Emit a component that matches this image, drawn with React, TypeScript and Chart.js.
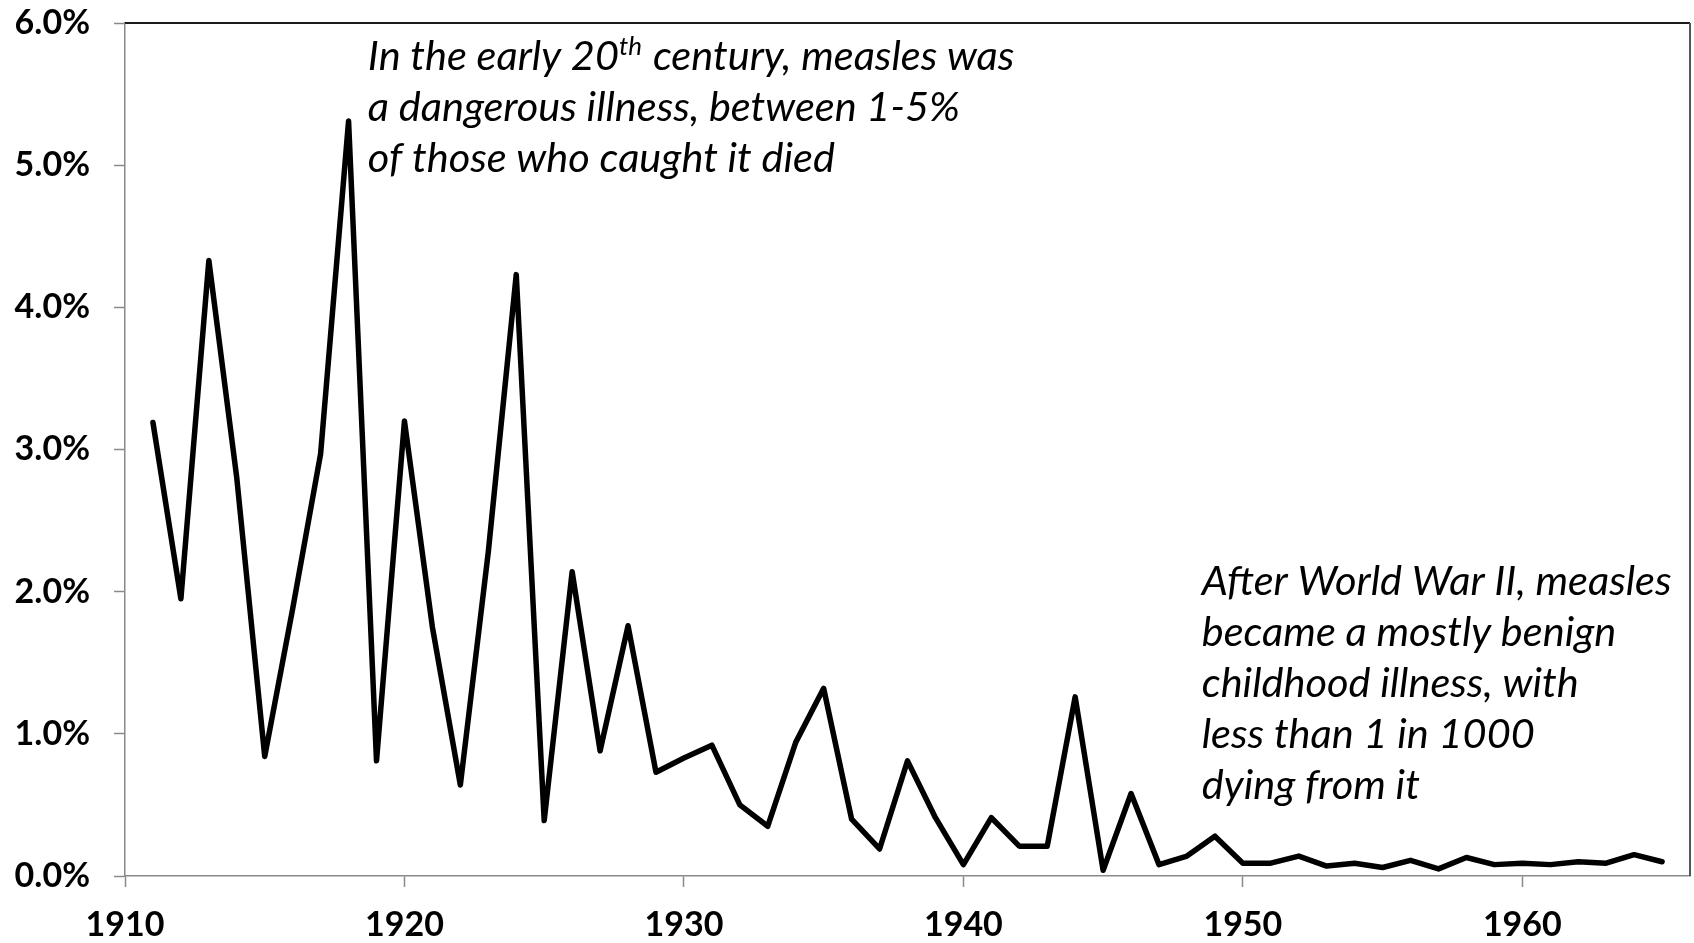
import React, { useEffect, useRef } from 'react';
import { Chart, registerables } from 'chart.js';

Chart.register(...registerables);

// ---- Data (case fatality rate of measles, %) ----
const years: number[] = [
  1911, 1912, 1913, 1914, 1915, 1916, 1917, 1918, 1919, 1920,
  1921, 1922, 1923, 1924, 1925, 1926, 1927, 1928, 1929, 1930,
  1931, 1932, 1933, 1934, 1935, 1936, 1937, 1938, 1939, 1940,
  1941, 1942, 1943, 1944, 1945, 1946, 1947, 1948, 1949, 1950,
  1951, 1952, 1953, 1954, 1955, 1956, 1957, 1958, 1959, 1960,
  1961, 1962, 1963, 1964, 1965,
];

const fatalityPct: number[] = [
  3.19, 1.95, 4.33, 2.80, 0.84, 1.88, 2.97, 5.31, 0.81, 3.20,
  1.75, 0.64, 2.28, 4.23, 0.39, 2.14, 0.88, 1.76, 0.73, 0.83,
  0.92, 0.50, 0.35, 0.94, 1.32, 0.40, 0.19, 0.81, 0.41, 0.08,
  0.41, 0.21, 0.21, 1.26, 0.04, 0.58, 0.08, 0.14, 0.28, 0.09,
  0.09, 0.14, 0.07, 0.09, 0.06, 0.11, 0.05, 0.13, 0.08, 0.09,
  0.08, 0.10, 0.09, 0.15, 0.10,
];

const xTickYears: number[] = [1910, 1920, 1930, 1940, 1950, 1960];
const yTickValues: number[] = [0, 1, 2, 3, 4, 5, 6];

const earlyNote: string[] = [
  'In the early 20^{th} century, measles was',
  'a dangerous illness, between 1-5%',
  'of those who caught it died',
];
const lateNote: string[] = [
  'After World War II, measles',
  'became a mostly benign',
  'childhood illness, with',
  'less than 1 in 1000',
  'dying from it',
];
// anchors in data units: [year, percent of first baseline]
const earlyAnchor: [number, number] = [1918.69, 5.67];
const lateAnchor: [number, number] = [1948.53, 1.98];

const TICK_FONT = 'Lato';
const NOTE_FONT = 'Lato';

function drawRich(ctx: CanvasRenderingContext2D, line: string, x: number, y: number, size: number) {
  const parts = line.split(/(\^\{[^}]*\})/);
  let cx = x;
  for (const p of parts) {
    if (!p) continue;
    const m = p.match(/^\^\{([^}]*)\}$/);
    if (m) {
      ctx.font = `italic ${Math.round(size * 0.62)}px ${NOTE_FONT}`;
      ctx.fillText(m[1], cx, y - size * 0.36);
      cx += ctx.measureText(m[1]).width + size * 0.03;
    } else {
      ctx.font = `italic ${size}px ${NOTE_FONT}`;
      ctx.fillText(p, cx, y);
      cx += ctx.measureText(p).width;
    }
  }
}

const notesPlugin = {
  id: 'notes',
  afterDraw(chart: any) {
    const { ctx, chartArea, scales } = chart;
    const xs = scales.x;
    const ys = scales.y;
    ctx.save();
    // frame: top and right borders
    ctx.strokeStyle = '#1a1a1a';
    ctx.lineWidth = 2;
    ctx.beginPath();
    ctx.moveTo(chartArea.left, chartArea.top);
    ctx.lineTo(chartArea.right, chartArea.top);
    ctx.stroke();
    ctx.strokeStyle = '#555';
    ctx.beginPath();
    ctx.moveTo(chartArea.right, chartArea.top);
    ctx.lineTo(chartArea.right, chartArea.bottom);
    ctx.stroke();

    ctx.fillStyle = '#000';
    ctx.textAlign = 'left';
    ctx.textBaseline = 'alphabetic';
    const size = 41.5;
    const lh = 51;
    const draw = (lines: string[], anchor: [number, number]) => {
      const x0 = xs.getPixelForValue(anchor[0]);
      const y0 = ys.getPixelForValue(anchor[1]);
      lines.forEach((l, i) => drawRich(ctx, l, x0, y0 + i * lh, size));
    };
    draw(earlyNote, earlyAnchor);
    draw(lateNote, lateAnchor);
    ctx.restore();
  },
};

export default function App() {
  const ref = useRef<HTMLCanvasElement | null>(null);
  useEffect(() => {
    if (!ref.current) return;
    const chart = new Chart(ref.current, {
      type: 'line',
      data: {
        datasets: [
          {
            data: years.map((yr, i) => ({ x: yr, y: fatalityPct[i] })),
            borderColor: '#000',
            borderWidth: 5.5,
            pointRadius: 0,
            tension: 0,
            fill: false,
            borderJoinStyle: 'round',
            borderCapStyle: 'round',
          },
        ],
      },
      options: {
        animation: false,
        responsive: false,
        devicePixelRatio: 1,
        layout: { padding: { top: 23, right: 4, left: 0, bottom: 0 } },
        plugins: { legend: { display: false }, tooltip: { enabled: false }, title: { display: false } },
        scales: {
          x: {
            type: 'linear',
            min: 1910,
            max: 1966,
            afterBuildTicks: (s: any) => {
              s.ticks = xTickYears.map((v) => ({ value: v }));
            },
            afterFit: (s: any) => {
              s.height = 67;
              s.paddingLeft = 0;
              s.paddingRight = 0;
            },
            ticks: {
              callback: (v: any) => String(v),
              color: '#000',
              font: { family: TICK_FONT, weight: 'bold', size: 34 },
              padding: 18,
              maxRotation: 0,
              autoSkip: false,
            },
            grid: {
              drawOnChartArea: false,
              drawTicks: true,
              tickLength: 11,
              tickColor: '#8a8a8a',
              tickWidth: 1.5,
            },
            border: { display: true, color: '#8a8a8a', width: 1.5 },
          },
          y: {
            type: 'linear',
            min: 0,
            max: 6,
            afterBuildTicks: (s: any) => {
              s.ticks = yTickValues.map((v) => ({ value: v }));
            },
            afterFit: (s: any) => {
              s.width = 125;
              s.paddingTop = 0;
              s.paddingBottom = 0;
            },
            ticks: {
              callback: (v: any) => Number(v).toFixed(1) + '%',
              color: '#000',
              font: { family: TICK_FONT, weight: 'bold', size: 34 },
              padding: 24,
            },
            grid: {
              drawOnChartArea: false,
              drawTicks: true,
              tickLength: 11,
              tickColor: '#8a8a8a',
              tickWidth: 1.5,
            },
            border: { display: true, color: '#8a8a8a', width: 1.5 },
          },
        },
      },
      plugins: [notesPlugin],
    } as any);
    return () => chart.destroy();
  }, []);
  return (
    <div style={{ position: 'fixed', left: 0, top: 0, width: 1694, height: 943, background: '#fff' }}>
      <canvas ref={ref} width={1694} height={943} style={{ display: 'block' }} />
    </div>
  );
}
